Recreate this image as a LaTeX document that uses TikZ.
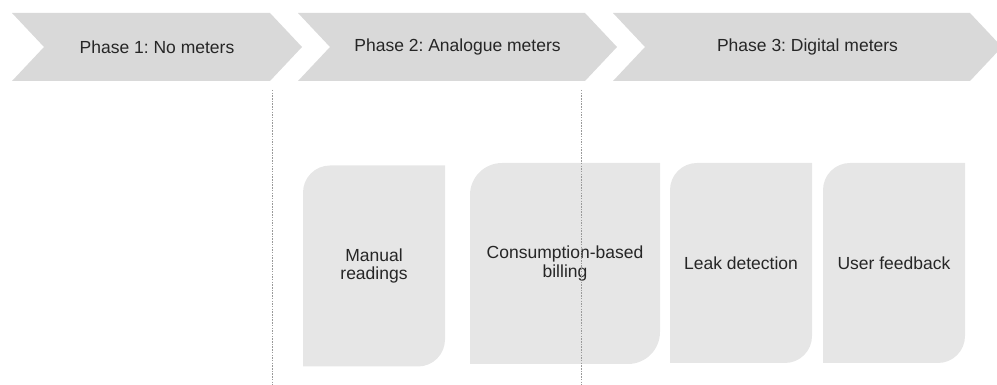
\documentclass[tikz,border=0pt]{standalone}
\usepackage{fontspec}
\setmainfont{Liberation Sans}
\usetikzlibrary{positioning}
\frenchspacing
\definecolor{phasegray}{HTML}{D9D9D9}
\definecolor{cardgray}{HTML}{E6E6E6}
\definecolor{textgray}{HTML}{262626}
\definecolor{dividergray}{HTML}{9A9A9A}
\tikzstyle{phase} = [minimum height=68pt, inner sep=0pt, text=textgray,
  path picture={\fill[phasegray] (path picture bounding box.south west) -- ([xshift=32pt]path picture bounding box.west)
    -- (path picture bounding box.north west) -- ([xshift=-32pt]path picture bounding box.north east)
    -- (path picture bounding box.east) -- ([xshift=-32pt]path picture bounding box.south east) -- cycle;}]
\tikzstyle{card} = [minimum width=142pt, minimum height=201pt, inner sep=0pt, align=center, text=textgray,
  path picture={\fill[cardgray] (path picture bounding box.south west) -- ([yshift=-\cardradius]path picture bounding box.north west)
    arc[start angle=180, end angle=90, radius=\cardradius] -- (path picture bounding box.north east)
    -- ([yshift=\cardradius]path picture bounding box.south east) arc[start angle=0, end angle=-90, radius=\cardradius] -- cycle;}]
\tikzstyle{divider} = [draw=dividergray, line width=0.6pt, dash pattern=on 1.5pt off 1.2pt]
\newcommand{\cardradius}{27pt}

\begin{document}
\begin{tikzpicture}[x=1pt, y=1pt, font=\fontsize{17.5}{18.5}\selectfont]
	\useasboundingbox (0,0) rectangle (997,385);
	\node[phase, minimum width=290pt](nometers) at (157,338){Phase 1: No meters};
	\node[phase, minimum width=319pt](analogue) at (457.5,338){Phase 2: Analogue meters};
	\node[phase, minimum width=389pt](digital) at (807.5,338){Phase 3: Digital meters};
	
	\node[card](manual) at (374,119){Manual\\readings};
	\begingroup\renewcommand{\cardradius}{32pt}
	\node[card, minimum width=190pt](billing) at (565,121.5){Consumption-based\\billing};
	\endgroup
	\node[card, minimum height=200pt](leak) at (741,122){Leak detection};
	\node[card, minimum height=200pt](feedback) at (894,122){User feedback};
	
	\coordinate (cut1top) at (272,295);
	\coordinate (cut1bot) at (272,0);
	\coordinate (cut2top) at (581,295);
	\coordinate (cut2bot) at (581,0);
	\draw [divider] (cut1top) -- (cut1bot);
	\draw [divider] (cut2top) -- (cut2bot);
\end{tikzpicture}
\end{document}
